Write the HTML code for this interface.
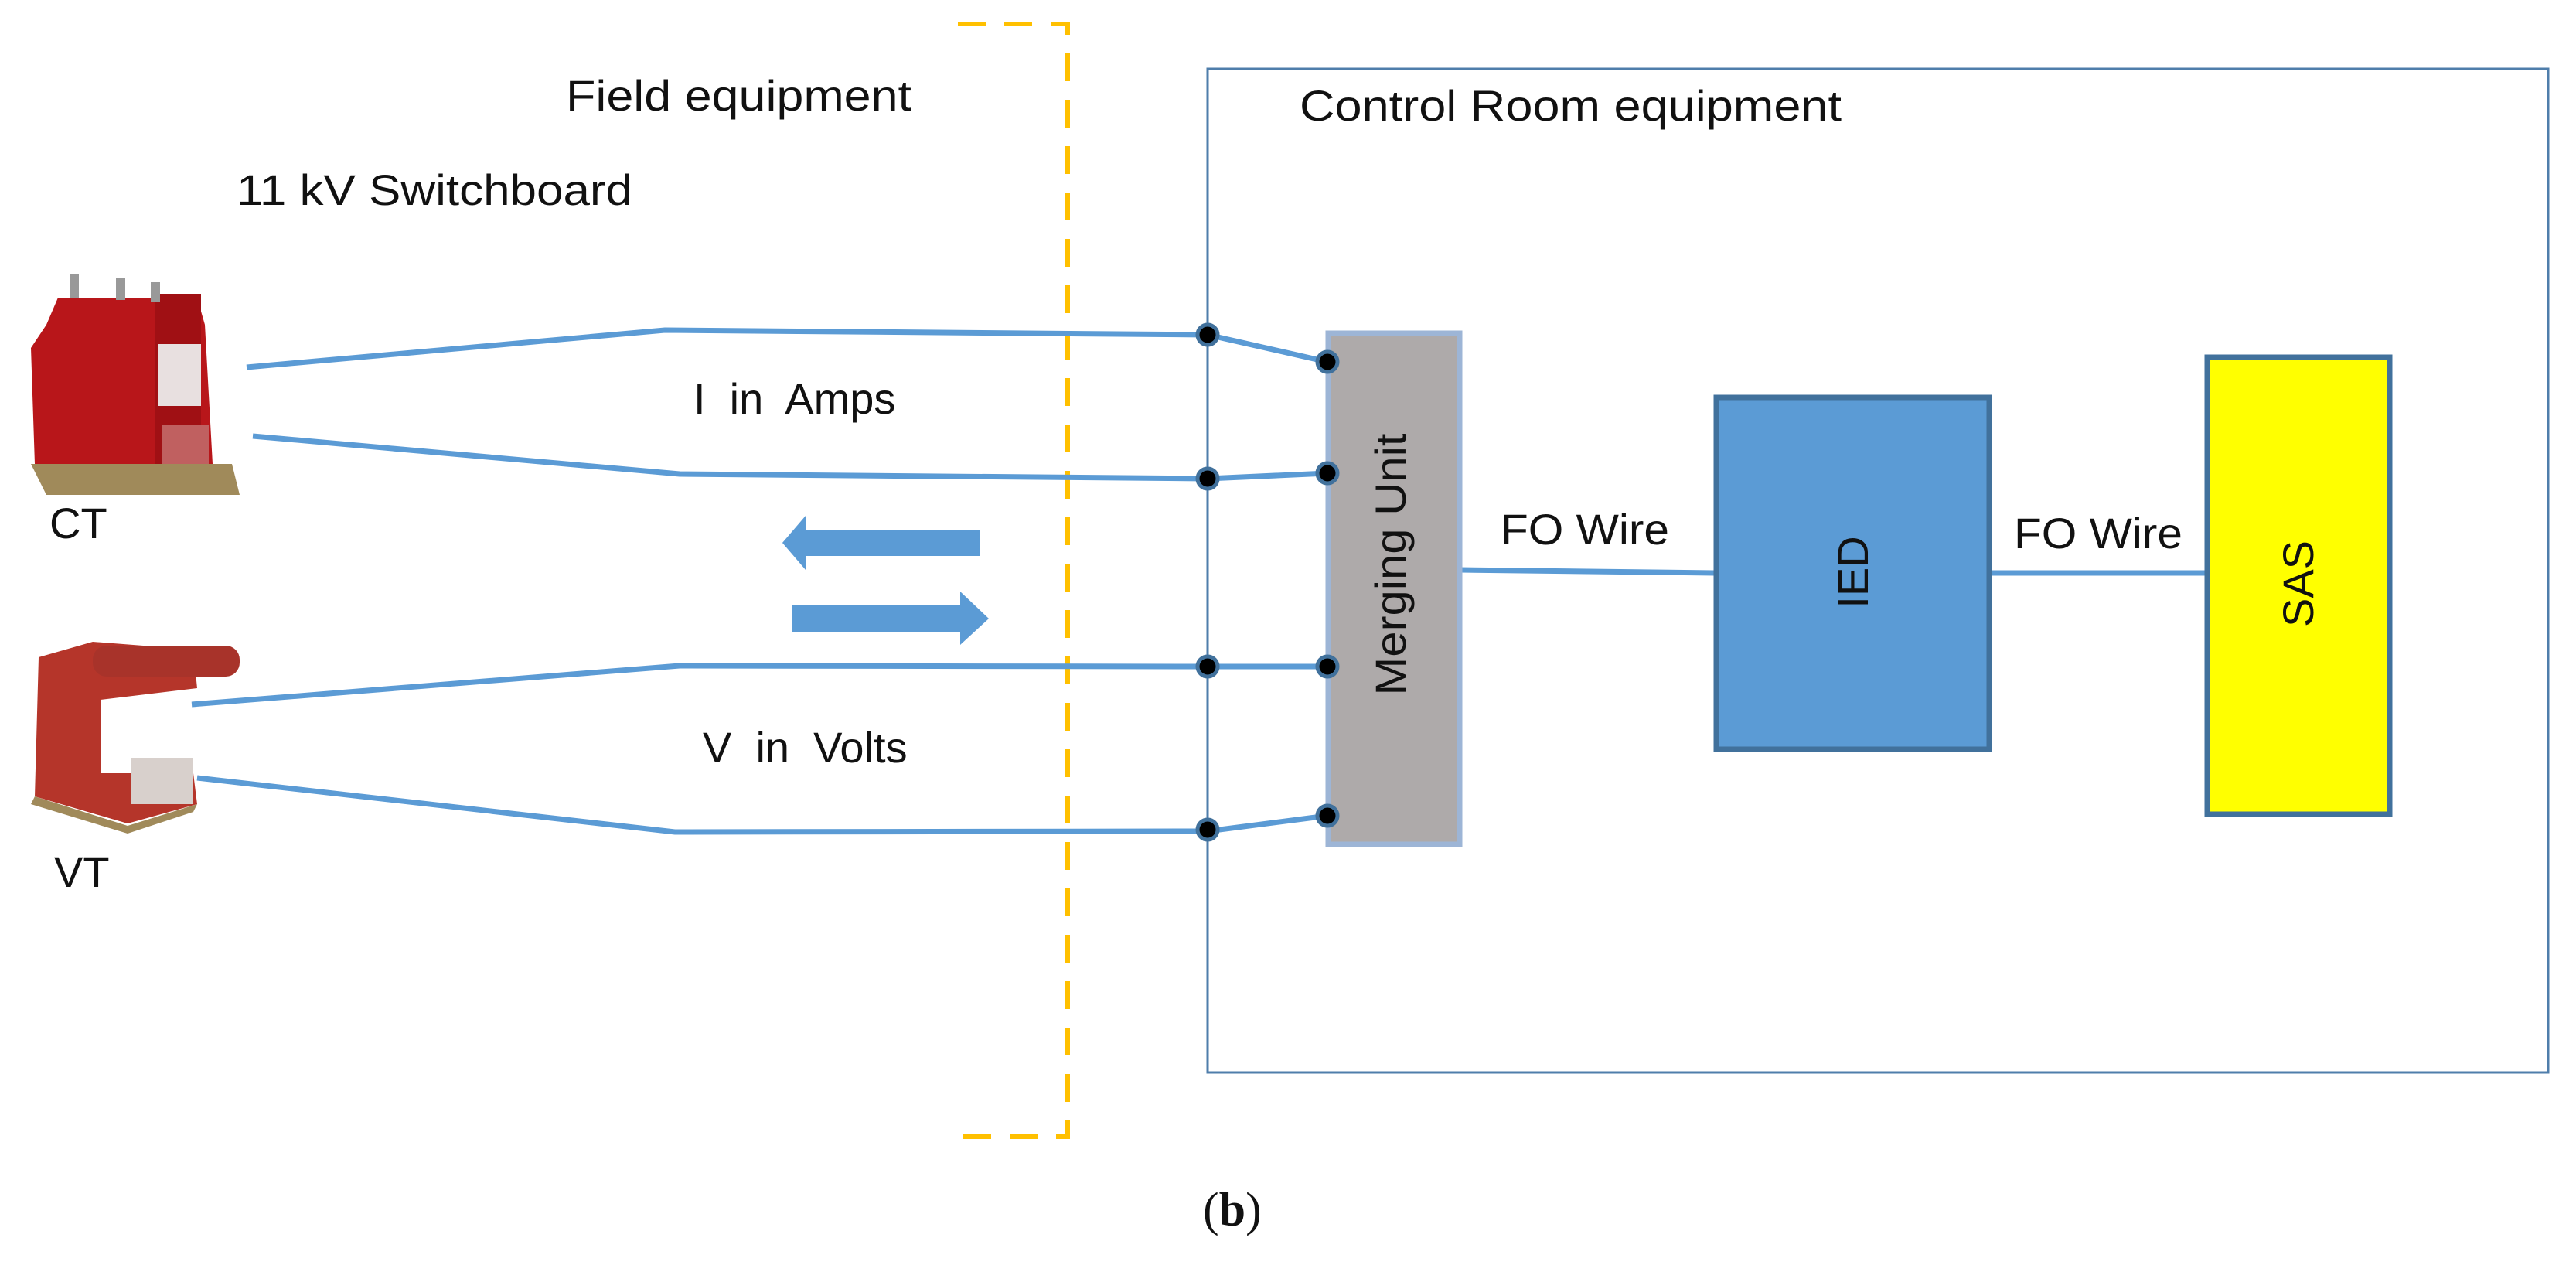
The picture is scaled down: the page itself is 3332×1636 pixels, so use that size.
<!DOCTYPE html>
<html><head><meta charset="utf-8"><style>
html,body{margin:0;padding:0;background:#fff}
svg{display:block}
text{font-family:"Liberation Sans",sans-serif;fill:#111}
</style></head><body>
<svg width="3332" height="1636" viewBox="0 0 3332 1636" xmlns="http://www.w3.org/2000/svg">
<rect width="3332" height="1636" fill="#fff"/>
<!-- control room box -->
<rect x="1562" y="89" width="1734" height="1298" fill="none" stroke="#4f7eab" stroke-width="3"/>
<!-- dashed orange boundary -->
<path d="M1239 31 H1381 V1470 H1239" fill="none" stroke="#ffc000" stroke-width="6" stroke-dasharray="36 24"/>
<!-- CT device -->
<g>
<path d="M60 640 L40 600 L300 600 L310 640 Z" fill="#a08a5a"/>
<path d="M60 420 L75 385 L255 385 L265 420 L275 600 L45 600 L40 450 Z" fill="#b8161a"/>
<rect x="200" y="380" width="60" height="220" fill="#a01014"/>
<rect x="205" y="445" width="55" height="80" fill="#e8e0e0"/>
<rect x="90" y="355" width="12" height="30" fill="#999"/><rect x="150" y="360" width="12" height="28" fill="#999"/><rect x="195" y="365" width="12" height="25" fill="#999"/>
<rect x="210" y="550" width="60" height="50" fill="#c06060"/>
</g>
<!-- VT device -->
<g>
<path d="M50 850 L120 830 L250 840 L255 890 L130 905 L130 1000 L250 1000 L255 1040 L165 1065 L45 1030 Z" fill="#b5352a"/>
<rect x="120" y="835" width="190" height="40" rx="18" fill="#a8332a"/>
<rect x="170" y="980" width="80" height="60" fill="#d8d0cc"/>
<path d="M45 1030 L165 1068 L255 1040 L250 1050 L165 1078 L40 1040Z" fill="#a08a5a"/>
</g>
<!-- wires -->
<g fill="none" stroke="#5b9bd5" stroke-width="7">
<polyline points="319,475 860,427 1562,433 1717,468"/>
<polyline points="327,564 879,613 1562,619 1717,612"/>
<polyline points="248,911 879,861 1562,862 1717,862"/>
<polyline points="255,1006 873,1076 1562,1075 1717,1055"/>
<line x1="1889" y1="737" x2="2217" y2="741"/>
<line x1="2575" y1="741" x2="2852" y2="741"/>
</g>
<!-- arrows -->
<path d="M1267 685 H1042 V667 L1012 702 L1042 737 V719 H1267 Z" fill="#5b9bd5"/>
<path d="M1024 782 H1242 V765 L1279 800 L1242 834 V817 H1024 Z" fill="#5b9bd5"/>
<!-- merging unit -->
<rect x="1718" y="431" width="170" height="661" fill="#aeaaaa" stroke="#9db5d6" stroke-width="7"/>
<!-- IED -->
<rect x="2220" y="514" width="353" height="455" fill="#5b9bd5" stroke="#41719c" stroke-width="7"/>
<!-- SAS -->
<rect x="2855" y="462" width="236" height="591" fill="#ffff00" stroke="#41719c" stroke-width="7"/>
<!-- terminals -->
<g fill="#000" stroke="#41719c" stroke-width="5">
<circle cx="1562" cy="433" r="13"/><circle cx="1562" cy="619" r="13"/><circle cx="1562" cy="862" r="13"/><circle cx="1562" cy="1073" r="13"/>
<circle cx="1717" cy="468" r="13"/><circle cx="1717" cy="612" r="13"/><circle cx="1717" cy="862" r="13"/><circle cx="1717" cy="1055" r="13"/>
</g>
<!-- labels -->
<text x="732" y="143" font-size="56" textLength="447" lengthAdjust="spacingAndGlyphs">Field equipment</text>
<text x="306" y="265" font-size="56" textLength="512" lengthAdjust="spacingAndGlyphs">11 kV Switchboard</text>
<text x="1681" y="156" font-size="56" textLength="701" lengthAdjust="spacingAndGlyphs">Control Room equipment</text>
<text x="64" y="696" font-size="56">CT</text>
<text x="70" y="1147" font-size="56">VT</text>
<text x="897" y="535" font-size="56" xml:space="preserve">I  in  Amps</text>
<text x="909" y="986" font-size="56" xml:space="preserve">V  in  Volts</text>
<text x="1941" y="704" font-size="56" textLength="218" lengthAdjust="spacingAndGlyphs">FO Wire</text>
<text x="2605" y="709" font-size="56" textLength="218" lengthAdjust="spacingAndGlyphs">FO Wire</text>
<text transform="translate(1818,730) rotate(-90)" text-anchor="middle" font-size="56" textLength="339" lengthAdjust="spacingAndGlyphs">Merging Unit</text>
<text transform="translate(2416,740) rotate(-90)" text-anchor="middle" font-size="56">IED</text>
<text transform="translate(2992,755) rotate(-90)" text-anchor="middle" font-size="56">SAS</text>
<text x="1556" y="1585" font-size="62" style="font-family:'Liberation Serif',serif">(<tspan font-weight="bold">b</tspan>)</text>
</svg>
</body></html>
